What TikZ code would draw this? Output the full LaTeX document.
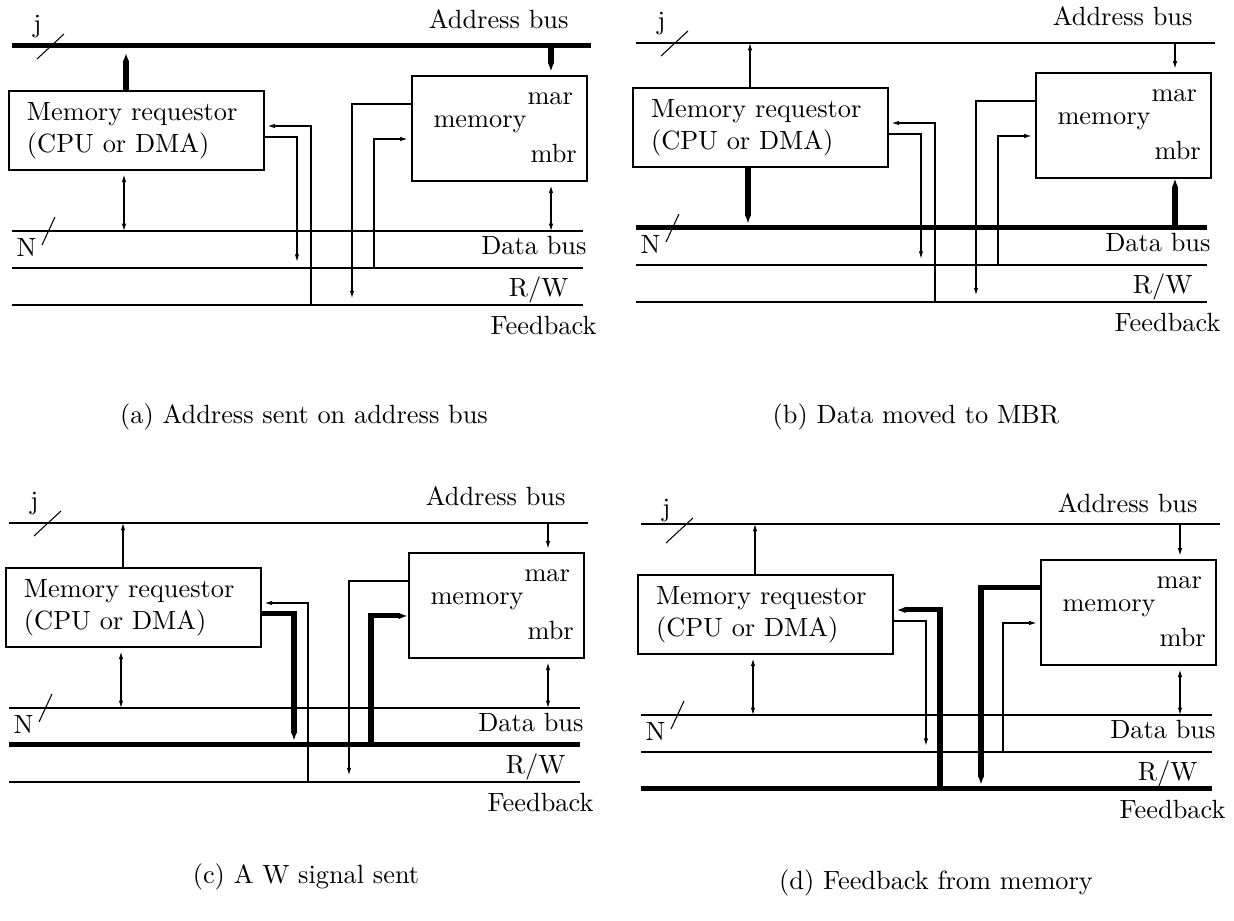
\documentclass[tikz,border=0pt]{standalone}
\usetikzlibrary{arrows.meta}
\def\U{0.3795pt}
% #1 prefix, #2 x shift, #3 y shift, #4 address bus y, #5 scope options
\newcommand\mempanel[5]{%
\begin{scope}[shift={(#2,#3)},#5]
  \coordinate (#1abL) at (12,#4);
  \coordinate (#1abR) at (591,#4);
  \coordinate (#1dbL) at (12,231);
  \coordinate (#1dbR) at (583,231);
  \coordinate (#1rwL) at (12,268);
  \coordinate (#1rwR) at (583,268);
  \coordinate (#1fbL) at (12,305);
  \coordinate (#1fbR) at (583,305);
  % connector x / y positions
  \coordinate (#1xra) at (126,0);
  \coordinate (#1xrd) at (124,0);
  \coordinate (#1xma) at (551,0);
  \coordinate (#1xro) at (297,0);
  \coordinate (#1xri) at (311,0);
  \coordinate (#1xmo) at (352,0);
  \coordinate (#1xmi) at (374,0);
  \coordinate (#1yro) at (0,137);
  \coordinate (#1yri) at (0,126);
  \coordinate (#1ymo) at (0,104);
  \coordinate (#1ymi) at (0,139);
  % slashes
  \coordinate (#1sja) at (37,59);
  \coordinate (#1sjb) at (64,34);
  \coordinate (#1sna) at (42,245);
  \coordinate (#1snb) at (55,217);
  % boxes
  \node[blockbox, minimum width=255*\U, minimum height=79*\U, text width=219*\U,
        inner xsep=18*\U, align=left] (#1req) at (136.5,130.5)
        {Memory requestor\\(CPU or DMA)};
  \node[blockbox, minimum width=175*\U, minimum height=105*\U] (#1mem) at (499.5,128.5) {};
  \node[lbl, anchor=base west] (#1mar) at (527,105) {mar};
  \node[lbl, anchor=base west] (#1memtxt) at (433,128) {memory};
  \node[lbl, anchor=base west] (#1mbr) at (530,163) {mbr};
  % labels
  \node[lbl, anchor=base east] (#1abt) at (569,29) {Address bus};
  \node[lbl, anchor=base east] (#1dbt) at (587,255) {Data bus};
  \node[lbl, anchor=base east] (#1rwt) at (569,297) {R/W};
  \node[lbl, anchor=base east] (#1fbt) at (597,335) {Feedback};
  \node[lbl, anchor=base] (#1j) at (37.5,33) {j};
  \node[lbl, anchor=base] (#1N) at (26.5,257) {N};
  \draw[slashline] (#1sja) -- (#1sjb);
  \draw[slashline] (#1sna) -- (#1snb);
  % buses
  \draw[abus] (#1abL) -- (#1abR);
  \draw[dbus] (#1dbL) -- (#1dbR);
  \draw[rwbus] (#1rwL) -- (#1rwR);
  \draw[fbbus] (#1fbL) -- (#1fbR);
  % connectors
  \draw[reqaddr] (#1req.north -| #1xra) -- (#1abL -| #1xra);
  \draw[memaddr] (#1abL -| #1xma) -- (#1mem.north -| #1xma);
  \draw[reqdata] (#1req.south -| #1xrd) -- (#1dbL -| #1xrd);
  \draw[memdata] (#1dbL -| #1xma) -- (#1mem.south -| #1xma);
  \draw[reqout] (#1req.east |- #1yro) -| (#1rwL -| #1xro);
  \draw[reqin] (#1fbL -| #1xri) |- (#1req.east |- #1yri);
  \draw[memout] (#1mem.west |- #1ymo) -| (#1fbL -| #1xmo);
  \draw[memin] (#1rwL -| #1xmi) |- (#1mem.west |- #1ymi);
\end{scope}}
\begin{document}
\begin{tikzpicture}[x=0.3795pt, y=-0.3795pt,
  thinline/.style={line width=0.4pt, >={Latex[length=2.8pt,width=1.7pt]}},
  thickline/.style={line width=1.9pt, >={Latex[length=3.4pt,width=2.5pt]}},
  blockbox/.style={draw, line width=0.4pt, rectangle, inner ysep=0pt},
  lbl/.style={inner sep=0pt},
  slashline/.style={line width=0.4pt},
  abus/.style={thinline},
  dbus/.style={thinline},
  rwbus/.style={thinline},
  fbbus/.style={thinline},
  reqaddr/.style={thinline,->},
  memaddr/.style={thinline,->,shorten >=1.5pt},
  reqdata/.style={thinline,<->,shorten <=1.6pt},
  memdata/.style={thinline,<->,shorten >=1.6pt},
  reqout/.style={thinline,->,shorten >=2.4pt},
  reqin/.style={thinline,->,shorten >=1.2pt},
  memout/.style={thinline,->,shorten >=2.6pt},
  memin/.style={thinline,->,shorten >=1.5pt},
]
\useasboundingbox (0,0) rectangle (1234,921);
\mempanel{a}{0}{0}{46}{abus/.style={thickline},
  reqaddr/.style={thickline,->,shorten >=2.6pt},
  memaddr/.style={thickline,->,shorten >=1.5pt}}
\mempanel{b}{624}{-3}{46}{dbus/.style={thickline},
  reqdata/.style={thickline,->,shorten >=1.6pt},
  memdata/.style={thickline,->}}
\mempanel{c}{-3}{477}{46}{rwbus/.style={thickline},
  reqout/.style={thickline,->,shorten >=1.6pt},
  memin/.style={thickline,->,shorten >=0.3pt}}
\mempanel{d}{629}{484}{40}{fbbus/.style={thickline},
  reqin/.style={thickline,->,shorten >=1.2pt},
  memout/.style={thickline,->,shorten >=1.6pt}}
\node[lbl, anchor=base] (capa) at (304,424) {(a) Address sent on address bus};
\node[lbl, anchor=base] (capb) at (916,424) {(b) Data moved to MBR};
\node[lbl, anchor=base] (capc) at (306,884) {(c) A W signal sent};
\node[lbl, anchor=base] (capd) at (936,890) {(d) Feedback from memory};
\end{tikzpicture}
\end{document}
